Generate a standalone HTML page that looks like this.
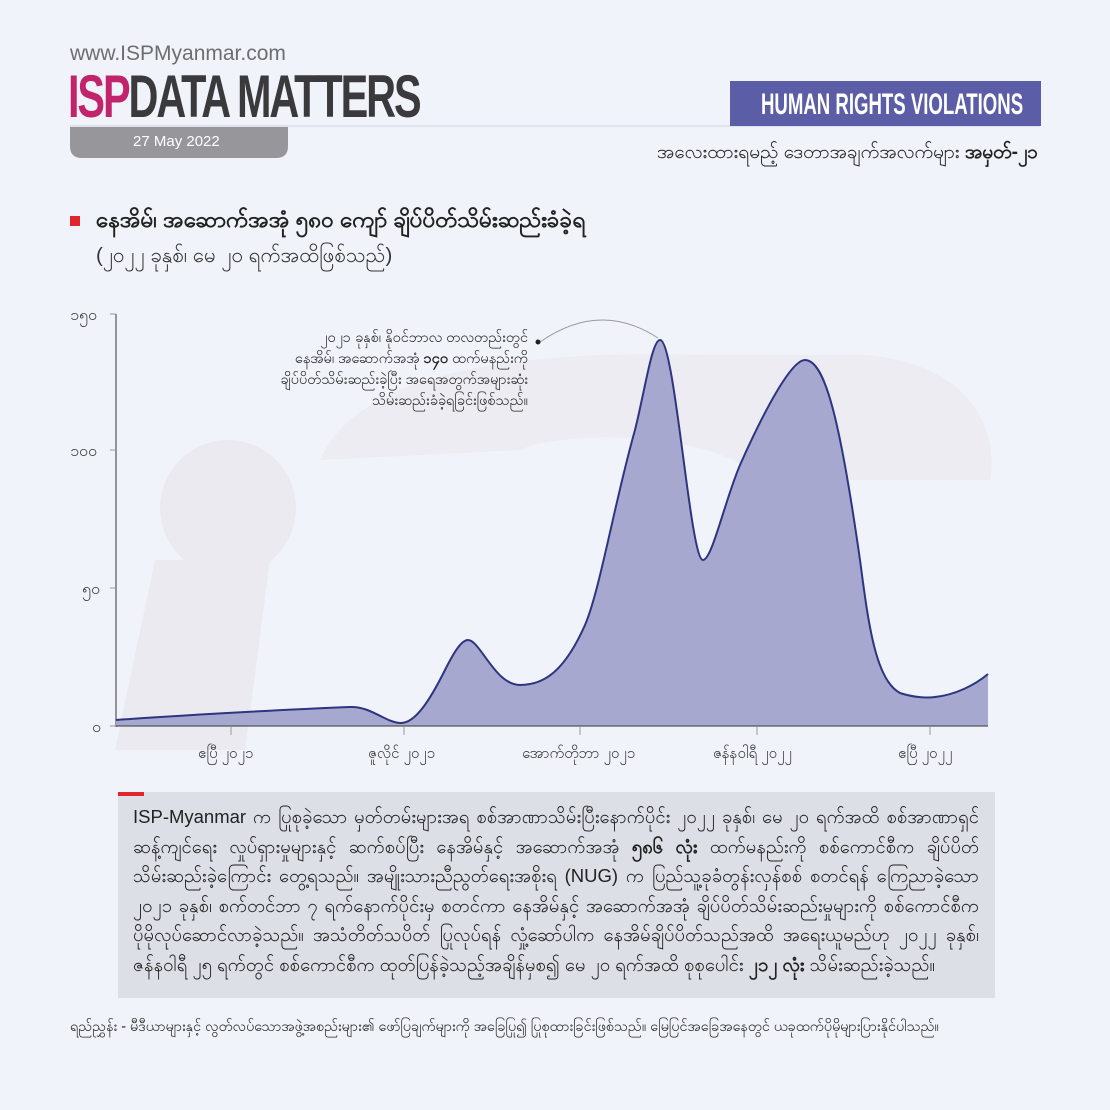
<!DOCTYPE html>
<html><head><meta charset="utf-8"><style>
html,body{margin:0;padding:0;background:#f0f3fa;}
body{width:1110px;height:1110px;position:relative;overflow:hidden;font-family:"Liberation Sans","Noto Sans CJK SC",sans-serif;}
.a{position:absolute;white-space:nowrap;}
.bl{display:block;text-align:justify;text-align-last:justify;white-space:nowrap;height:29.5px;}
</style></head><body>
<svg class="a" style="left:0;top:0" width="1110" height="1110">
 <g fill="#ebeaf0">
  <circle cx="228" cy="508" r="68"/>
  <path d="M155 560 L270 560 L245 750 L115 750 Z"/>
  <path d="M320 460 C360 370 520 350 700 355 L860 355 C960 360 1000 420 990 480 L760 480 C720 430 560 430 520 450 L320 460 Z" opacity="0.8"/>
 </g>
 <line x1="70" y1="126" x2="1040" y2="126" stroke="#cfd3dc" stroke-width="1"/>
 <path d="M70 127 L288 127 L288 146 Q288 158 276 158 L82 158 Q70 158 70 146 Z" fill="#97979b"/>
 <rect x="730" y="81" width="311" height="45" fill="#5b5ea6"/>
 <line x1="116" y1="314" x2="116" y2="727" stroke="#555" stroke-width="1.2"/>
 <g stroke="#999" stroke-width="1"><line x1="110" y1="314" x2="116" y2="314"/><line x1="110" y1="450" x2="116" y2="450"/><line x1="110" y1="588" x2="116" y2="588"/><line x1="110" y1="726" x2="116" y2="726"/>
 <line x1="231" y1="727" x2="231" y2="735"/><line x1="404" y1="727" x2="404" y2="735"/><line x1="580" y1="727" x2="580" y2="735"/><line x1="757" y1="727" x2="757" y2="735"/><line x1="930" y1="727" x2="930" y2="735"/></g>
 <path d="M116 720 C200 714 300 709 350 707 C370 706 385 722 400 723 C415 724 430 700 445 670 C455 650 462 640 468 640 C480 640 495 685 520 685 C545 685 565 670 585 625 C600 590 615 500 635 430 C645 390 652 340 660 340 C675 340 690 560 703 560 C712 560 725 500 740 465 C760 420 790 360 805 360 C825 360 840 420 860 560 C868 620 875 680 900 693 C915 698 930 698 935 697 C955 695 975 685 988 674 L988 726 L116 726 Z" fill="#a7a8d0" stroke="none"/>
 <path d="M116 720 C200 714 300 709 350 707 C370 706 385 722 400 723 C415 724 430 700 445 670 C455 650 462 640 468 640 C480 640 495 685 520 685 C545 685 565 670 585 625 C600 590 615 500 635 430 C645 390 652 340 660 340 C675 340 690 560 703 560 C712 560 725 500 740 465 C760 420 790 360 805 360 C825 360 840 420 860 560 C868 620 875 680 900 693 C915 698 930 698 935 697 C955 695 975 685 988 674" fill="none" stroke="#2e3580" stroke-width="2"/>
 <line x1="116" y1="726" x2="988" y2="726" stroke="#555" stroke-width="1.2"/>
 <path d="M540 342 Q600 300 658 338" fill="none" stroke="#999" stroke-width="1"/>
 <circle cx="538" cy="342" r="2.5" fill="#222"/>
 <rect x="70" y="216" width="10" height="10" fill="#e0262c"/>
 <rect x="118" y="792" width="877" height="206" fill="#dcdfe6"/>
 <rect x="118" y="792" width="26" height="4" fill="#e0262c"/>
</svg>
<div class="a" style="left:70px;top:42px;font-size:21px;color:#6d6e71">www.ISPMyanmar.com</div>
<div class="a" style="left:68px;top:62px;font-size:60px;font-weight:bold;letter-spacing:-3px;transform:scaleX(0.69);transform-origin:left;color:#3a3a3c"><span style="color:#c2246b">ISP</span>DATA MATTERS</div>
<div class="a" style="left:133px;top:133px;font-size:15px;color:#fff">27 May 2022</div>
<div class="a" style="left:761px;top:88px;font-size:30px;font-weight:bold;color:#fff;transform:scaleX(0.62);transform-origin:left">HUMAN RIGHTS VIOLATIONS</div>
<div class="a" style="right:72px;top:140px;font-size:19px;color:#222">အလေးထားရမည့် ဒေတာအချက်အလက်များ <b>အမှတ်-၂၁</b></div>
<div class="a" style="left:96px;top:205px;font-size:22.5px;font-weight:bold;color:#222">နေအိမ်၊ အဆောက်အအုံ ၅၈၀ ကျော် ချိပ်ပိတ်သိမ်းဆည်းခံခဲ့ရ</div>
<div class="a" style="left:96px;top:243px;font-size:20.5px;color:#333">(၂၀၂၂ ခုနှစ်၊ မေ ၂၀ ရက်အထိဖြစ်သည်)</div>
<div class="a" style="left:70px;top:304px;font-size:16px;color:#333">၁၅၀</div>
<div class="a" style="left:70px;top:440px;font-size:16px;color:#333">၁၀၀</div>
<div class="a" style="left:82px;top:578px;font-size:16px;color:#333">၅၀</div>
<div class="a" style="left:92px;top:716px;font-size:16px;color:#333">၀</div>
<div class="a" style="left:198px;top:744px;font-size:15px;color:#333">ဧပြီ ၂၀၂၁</div>
<div class="a" style="left:368px;top:744px;font-size:15px;color:#333">ဇူလိုင် ၂၀၂၁</div>
<div class="a" style="left:522px;top:744px;font-size:15px;color:#333">အောက်တိုဘာ ၂၀၂၁</div>
<div class="a" style="left:713px;top:744px;font-size:15px;color:#333">ဇန်နဝါရီ ၂၀၂၂</div>
<div class="a" style="left:898px;top:744px;font-size:15px;color:#333">ဧပြီ ၂၀၂၂</div>
<div class="a" style="left:270px;top:328px;width:258px;text-align:right;white-space:normal;font-size:14.5px;line-height:21px;color:#222">၂၀၂၁ ခုနှစ်၊ နိုဝင်ဘာလ တလတည်းတွင်<br>နေအိမ်၊ အဆောက်အအုံ <b>၁၄၀</b> ထက်မနည်းကို<br>ချိပ်ပိတ်သိမ်းဆည်းခဲ့ပြီး အရေအတွက်အများဆုံး<br>သိမ်းဆည်းခံခဲ့ရခြင်းဖြစ်သည်။</div>
<div class="a" style="left:133px;top:802px;width:846px;font-size:18.5px;line-height:29.5px;color:#222">
<span class="bl">ISP-Myanmar က ပြုစုခဲ့သော မှတ်တမ်းများအရ စစ်အာဏာသိမ်းပြီးနောက်ပိုင်း ၂၀၂၂ ခုနှစ်၊ မေ ၂၀ ရက်အထိ စစ်အာဏာရှင်</span>
<span class="bl">ဆန့်ကျင်ရေး လှုပ်ရှားမှုများနှင့် ဆက်စပ်ပြီး နေအိမ်နှင့် အဆောက်အအုံ <b>၅၈၆ လုံး</b> ထက်မနည်းကို စစ်ကောင်စီက ချိပ်ပိတ်</span>
<span class="bl">သိမ်းဆည်းခဲ့ကြောင်း တွေ့ရသည်။ အမျိုးသားညီညွတ်ရေးအစိုးရ (NUG) က ပြည်သူ့ခုခံတွန်းလှန်စစ် စတင်ရန် ကြေညာခဲ့သော</span>
<span class="bl">၂၀၂၁ ခုနှစ်၊ စက်တင်ဘာ ၇ ရက်နောက်ပိုင်းမှ စတင်ကာ နေအိမ်နှင့် အဆောက်အအုံ ချိပ်ပိတ်သိမ်းဆည်းမှုများကို စစ်ကောင်စီက</span>
<span class="bl">ပိုမိုလုပ်ဆောင်လာခဲ့သည်။ အသံတိတ်သပိတ် ပြုလုပ်ရန် လှုံ့ဆော်ပါက နေအိမ်ချိပ်ပိတ်သည်အထိ အရေးယူမည်ဟု ၂၀၂၂ ခုနှစ်၊</span>
<span class="bl" style="text-align-last:left">ဇန်နဝါရီ ၂၅ ရက်တွင် စစ်ကောင်စီက ထုတ်ပြန်ခဲ့သည့်အချိန်မှစ၍ မေ ၂၀ ရက်အထိ စုစုပေါင်း <b>၂၁၂ လုံး</b> သိမ်းဆည်းခဲ့သည်။</span>
</div>
<div class="a" style="left:70px;top:1018px;font-size:14.4px;color:#222">ရည်ညွှန်း - မီဒီယာများနှင့် လွတ်လပ်သောအဖွဲ့အစည်းများ၏ ဖော်ပြချက်များကို အခြေပြု၍ ပြုစုထားခြင်းဖြစ်သည်။ မြေပြင်အခြေအနေတွင် ယခုထက်ပိုမိုများပြားနိုင်ပါသည်။</div>
</body></html>
